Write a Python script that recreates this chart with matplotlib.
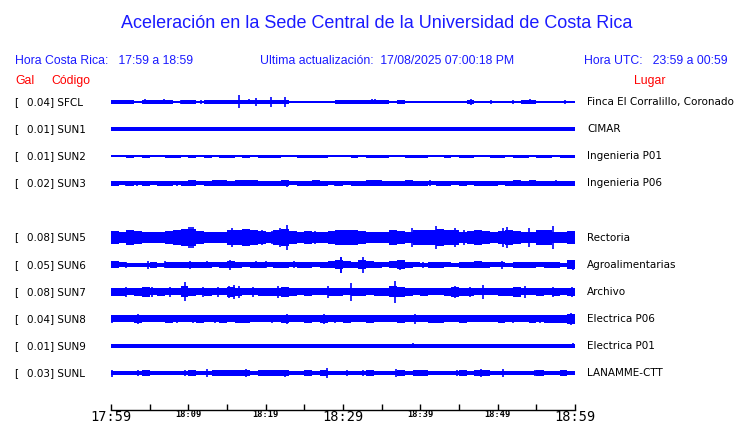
import matplotlib
matplotlib.use("Agg")
import matplotlib.pyplot as plt
import matplotlib.transforms as mtransforms
import numpy as np

# ---------------- data ----------------
title = "Aceleración en la Sede Central de la Universidad de Costa Rica"
hora_cr = "Hora Costa Rica:   17:59 a 18:59"
ultima = "Ultima actualización:  17/08/2025 07:00:18 PM"
hora_utc = "Hora UTC:   23:59 a 00:59"

codes = ["SFCL", "SUN1", "SUN2", "SUN3", "SUN5", "SUN6", "SUN7", "SUN8", "SUN9", "SUNL"]
gal = ["0.04", "0.01", "0.01", "0.02", "0.08", "0.05", "0.08", "0.04", "0.01", "0.03"]
places = ["Finca El Corralillo, Coronado", "CIMAR", "Ingenieria P01", "Ingenieria P06",
          "Rectoria", "Agroalimentarias", "Archivo", "Electrica P06", "Electrica P01",
          "LANAMME-CTT"]
slots = [0, 1, 2, 3, 5, 6, 7, 8, 9, 10]

tick_minutes = [0, 10, 20, 30, 40, 50, 60]
tick_labels = ["17:59", "18:09", "18:19", "18:29", "18:39", "18:49", "18:59"]
big_labels = ["17:59", "18:29", "18:59"]

# per-minute half-amplitude envelopes (display units)
env_SFCL = [1.5,1.5,1.5,0.6,1.5,1.5,1.5,1.5,0.6,1.5, 1.5,1.0,1.5,1.5,1.5,1.5,2.0,2.0,2.0,1.5,
            2.0,1.5,2.0,0.6,1.0,0.6,1.0,1.0,0.6,1.5, 1.5,1.5,1.5,2.0,1.5,1.5,1.0,1.5,0.6,1.0,
            0.6,1.0,1.0,0.6,0.6,1.0,1.5,0.6,0.6,0.6, 0.6,1.0,1.0,1.5,1.5,0.6,0.6,0.6,1.0,1.0]
env_SUN1 = [1.5,1.6,1.5,1.5,1.6,1.5,1.5,1.6,1.5,1.5, 1.5,1.6,1.5,1.5,1.5,1.6,1.5,1.5,1.5,1.6,
            1.5,1.5,1.6,1.5,1.5,1.5,1.6,1.5,1.5,1.5, 1.6,1.5,1.5,1.5,1.6,1.5,1.5,1.5,1.6,1.5,
            1.5,1.5,1.6,1.5,1.5,1.5,1.6,1.5,1.5,1.5, 1.6,1.5,1.5,1.5,1.6,1.5,1.5,1.5,1.6,1.5]
env_SUN2 = [1.0,0.6,1.1,0.8,1.1,1.0,0.6,1.1,1.1,0.8, 1.1,1.0,1.1,0.6,1.1,1.1,1.0,1.1,0.8,1.1,
            1.1,1.1,0.6,1.0,1.1,1.1,1.1,1.1,1.0,0.8, 1.0,1.1,1.0,1.1,1.1,1.1,0.6,1.0,1.1,1.1,
            1.1,1.0,0.8,1.1,1.0,1.1,1.1,1.0,0.8,1.1, 1.1,1.0,1.1,1.1,0.8,1.1,1.1,1.0,1.1,1.1]
env_SUN3 = [2.0,1.8,2.2,1.8,2.0,1.8,2.2,2.0,1.6,2.2, 2.4,1.8,2.0,2.5,2.5,2.2,2.5,2.5,2.5,2.0,
            2.2,2.0,2.5,1.8,2.2,2.0,2.4,2.0,1.8,2.0, 1.8,2.0,2.2,2.5,2.5,2.0,2.2,2.0,2.4,2.2,
            2.0,1.8,2.2,2.0,1.8,2.2,1.8,2.0,2.2,2.0, 1.8,2.0,2.5,2.2,2.5,2.0,2.2,2.0,2.2,2.2]
env_SUN5 = [5.5,5.0,6.0,5.5,4.5,4.5,5.0,5.5,6.0,7.0, 7.0,5.5,5.0,4.5,5.0,6.0,6.5,7.0,6.0,5.5,
            5.0,6.0,7.0,5.5,5.0,5.5,5.0,5.0,5.5,6.0, 6.0,6.0,5.5,5.0,5.0,5.0,6.0,5.5,5.0,6.0,
            6.0,6.5,7.0,6.5,6.0,5.0,5.5,6.0,5.5,5.0, 5.5,6.0,5.5,5.0,5.0,6.0,6.5,5.0,5.0,5.5]
env_SUN6 = [3.0,2.0,1.7,1.7,1.7,2.5,1.7,2.5,2.5,2.5, 2.5,2.5,2.5,2.0,2.5,3.0,2.5,2.0,2.5,2.5,
            2.0,2.5,2.5,2.0,2.5,2.5,2.0,2.5,3.0,4.0, 3.0,2.5,4.0,3.0,2.5,2.0,3.0,3.5,2.5,2.0,
            1.7,2.5,2.5,2.0,1.7,2.5,2.5,3.0,2.5,2.0, 2.0,1.7,2.5,2.5,2.5,2.0,2.5,2.5,1.7,3.5]
env_SUN7 = [3.5,3.5,3.0,3.5,4.0,3.0,3.5,3.0,3.0,4.5, 3.5,3.0,3.5,3.0,3.0,4.0,3.5,3.0,3.0,3.5,
            3.5,3.5,4.0,3.5,3.0,3.5,3.0,3.0,3.5,3.5, 3.0,3.5,3.5,3.0,3.5,3.5,4.5,4.0,3.5,3.0,
            3.5,3.0,3.0,3.5,4.0,3.5,3.5,3.0,3.0,3.0, 3.5,3.5,4.0,3.0,3.0,3.5,3.0,3.5,3.0,3.5]
env_SUN8 = [3.0,3.0,3.0,3.5,3.0,3.0,3.0,3.5,3.0,3.0, 3.0,3.5,3.0,3.0,3.5,3.0,3.5,3.5,3.0,3.0,
            3.0,3.0,3.5,3.0,3.0,3.5,3.0,3.5,3.0,3.0, 3.5,3.0,3.0,3.5,3.0,3.0,3.0,3.5,3.0,3.0,
            3.0,3.5,3.5,3.0,3.0,3.5,3.0,3.0,3.0,3.0, 3.5,3.0,3.0,3.0,3.5,3.0,3.5,3.5,3.5,4.0]
env_SUN9 = [1.4,1.4,1.4,1.4,1.4,1.4,1.4,1.4,1.4,1.4, 1.4,1.4,1.4,1.4,1.4,1.4,1.4,1.4,1.4,1.4,
            1.4,1.4,1.4,1.4,1.4,1.4,1.4,1.4,1.4,1.4, 1.4,1.4,1.4,1.4,1.4,1.4,1.4,1.4,1.4,1.6,
            1.4,1.4,1.4,1.4,1.4,1.4,1.4,1.4,1.4,1.4, 1.4,1.4,1.4,1.4,1.4,1.4,1.4,1.4,1.4,1.4]
env_SUNL = [2.0,2.0,1.5,2.0,2.2,1.5,1.5,2.0,1.5,2.0, 2.2,2.0,1.5,2.5,2.5,2.5,2.5,2.5,2.0,2.5,
            2.5,2.5,2.5,2.0,2.0,2.5,2.0,2.2,1.8,2.0, 2.0,1.5,2.0,2.5,1.5,2.0,2.0,2.5,2.0,2.5,
            2.5,2.0,2.0,1.8,2.0,2.5,2.0,2.5,2.5,2.0, 1.5,2.0,2.0,1.8,2.0,2.5,2.0,2.0,2.2,2.0]

# isolated spikes: (minute, half-amplitude)
spk_SFCL = [(4.4, 2.5), (6.8, 2.5), (9.1, 2), (11.7, 2), (16.6, 6.5), (17.8, 2.5),
            (18.8, 4), (20.7, 5), (22.5, 5), (33.7, 2.5), (34.1, 2.5), (46.6, 3),
            (49.2, 2), (52.0, 2), (54.2, 2.5), (58.7, 2)]
spk_SUN1 = []
spk_SUN2 = []
spk_SUN3 = [(0.9, 2.5), (2.0, 2.5), (3.3, 2.5), (4.8, 2.5), (6.1, 2.5), (7.4, 2.5),
            (8.5, 2.5), (10.4, 2.5), (12.2, 2.5), (13.4, 2.5), (14.5, 2.5), (17.8, 2.5),
            (19.0, 2.5), (20.8, 2.5), (22.8, 3.5), (24.2, 2.5), (25.7, 2.5), (27.7, 2.5),
            (29.0, 2.5), (41.3, 3), (57.6, 3)]
spk_SUN5 = [(2.2, 7), (2.9, 7), (4.2, 6), (4.8, 6), (6.8, 6), (8.4, 6), (9.6, 7),
            (10.1, 10.5), (10.4, 10), (10.6, 10), (11.3, 7), (12.2, 6), (15.2, 8),
            (15.6, 9), (19.5, 8), (20.8, 7), (21.9, 9), (22.8, 12), (25.1, 6),
            (26.4, 7), (29.0, 7), (30.7, 5), (32.6, 6), (38.9, 9), (42.0, 11),
            (44.5, 9), (45.6, 8), (50.7, 9), (51.2, 10), (54.0, 9), (57.2, 11.5), (59.4, 6)]
spk_SUN6 = [(2.0, 3), (4.8, 4), (7.0, 3.5), (10.2, 4), (12.4, 3.5), (15.4, 5),
            (18.8, 3.5), (20.1, 3.5), (23.6, 3.5), (27.7, 3), (29.7, 8), (29.8, 8),
            (32.6, 8), (37.4, 5), (40.4, 3), (45.6, 3), (50.5, 4), (53.8, 3), (59.4, 3),
            (59.8, 5)]
spk_SUN7 = [(0.1, 4), (2.0, 5), (5.3, 5), (7.6, 5), (9.6, 9.5), (11.9, 5), (13.9, 5),
            (15.2, 6), (15.9, 7), (16.5, 6), (18.4, 5), (21.6, 6), (22.7, 5), (28.0, 6),
            (31.0, 9), (36.7, 11), (44.5, 6), (46.4, 5), (48.1, 7), (53.5, 6),
            (57.2, 5), (59.6, 5)]
spk_SUN8 = [(0.1, 4), (3.5, 5), (8.5, 4), (10.6, 4), (13.4, 4), (17.1, 4), (20.8, 4),
            (22.8, 5), (25.1, 4), (27.5, 5), (29.0, 4), (30.9, 4), (33.5, 4), (39.3, 5),
            (45.8, 4), (52.0, 4), (55.5, 4), (59.5, 6)]
spk_SUN9 = [(39.1, 2.5), (59.8, 2.5)]
spk_SUNL = [(0.1, 3.5), (3.5, 3), (9.6, 3), (12.4, 4), (17.5, 4), (22.5, 3.5),
            (27.9, 5), (30.5, 3), (32.6, 3), (36.9, 4), (44.7, 3), (47.9, 4),
            (50.7, 4), (54.8, 3), (58.3, 3)]

envelopes = [env_SFCL, env_SUN1, env_SUN2, env_SUN3, env_SUN5, env_SUN6, env_SUN7,
             env_SUN8, env_SUN9, env_SUNL]
spikes = [spk_SFCL, spk_SUN1, spk_SUN2, spk_SUN3, spk_SUN5, spk_SUN6, spk_SUN7,
          spk_SUN8, spk_SUN9, spk_SUNL]

# ---------------- figure ----------------
W, H = 740, 423
fig = plt.figure(figsize=(W / 100, H / 100), dpi=100)
fig.patch.set_facecolor("white")

def fx(px):
    return px / W

def fy(py):
    return 1 - py / H

BLUE = "#0000ff"
TBLUE = "#1a1aff"
RED = "#ff0000"
SLOT_PX = 27.1
GAIN = 1.2
x0, x1 = 111, 575
top_px = 102 - SLOT_PX / 2
bot_px = 102 + SLOT_PX * 10 + SLOT_PX / 2

ax = fig.add_axes([fx(x0), fy(bot_px), fx(x1 - x0), (bot_px - top_px) / H])
ax.set_xlim(0, 60)
ax.set_ylim(10.5, -0.5)
ax.axis("off")

for s, env, spk in zip(slots, envelopes, spikes):
    e = GAIN * np.array(env) / SLOT_PX
    t = np.arange(len(env)) + 0.5
    tt = np.concatenate([[0], t, [60]])
    ee = np.concatenate([[e[0]], e, [e[-1]]])
    ax.fill_between(tt, s - ee, s + ee, step="mid", color=BLUE, lw=0)
    ax.plot([0, 60], [s, s], color=BLUE, lw=1.2)
    if spk:
        m = np.array([p[0] for p in spk])
        a = np.array([p[1] for p in spk]) / SLOT_PX
        ax.vlines(m, s - a, s + a, color=BLUE, lw=1.2)

# left / right labels
trL = mtransforms.blended_transform_factory(fig.transFigure, ax.transData)
for s, g, c, p in zip(slots, gal, codes, places):
    ax.text(fx(14), s, "[", transform=trL, ha="left", va="center", fontsize=7.5,
            family="DejaVu Sans", color="black")
    ax.text(fx(27), s, f"{g}] {c}", transform=trL, ha="left", va="center",
            fontsize=7.5, family="DejaVu Sans", color="black")
    ax.text(fx(587), s, p, transform=trL, ha="left", va="center", fontsize=7.5,
            family="DejaVu Sans", color="black")

# header texts
fig.text(fx(377), fy(23), title, ha="center", va="center", color=TBLUE,
         fontsize=13.0, family="Liberation Sans")
fig.text(fx(15), fy(61), hora_cr, ha="left", va="center", color=TBLUE,
         fontsize=8.8, family="Liberation Sans")
fig.text(fx(260), fy(61), ultima, ha="left", va="center", color=TBLUE,
         fontsize=8.8, family="Liberation Sans")
fig.text(fx(728), fy(61), hora_utc, ha="right", va="center", color=TBLUE,
         fontsize=8.8, family="Liberation Sans")
fig.text(fx(15), fy(81), "Gal", ha="left", va="center", color=RED,
         fontsize=8.8, family="Liberation Sans")
fig.text(fx(51), fy(81), "Código", ha="left", va="center", color=RED,
         fontsize=8.8, family="Liberation Sans")
fig.text(fx(634), fy(81), "Lugar", ha="left", va="center", color=RED,
         fontsize=8.8, family="Liberation Sans")

# time axis
tax = fig.add_axes([fx(x0), fy(410), fx(x1 - x0), 8 / H])
tax.set_xlim(0, 60)
tax.set_ylim(0, 1)
for sp in ["top", "left", "right"]:
    tax.spines[sp].set_visible(False)
tax.spines["bottom"].set_linewidth(1.0)
tax.set_yticks([])
tax.set_xticks(tick_minutes)
tax.set_xticks(np.array(tick_minutes[:-1]) + 5, minor=True)
tax.set_xticklabels(tick_labels, family="DejaVu Sans Mono")
for lab in tax.get_xticklabels():
    if lab.get_text() in big_labels:
        lab.set_fontsize(9.8)
    else:
        lab.set_fontsize(6.2)
        lab.set_fontweight("bold")
tax.tick_params(axis="x", which="both", direction="in", length=4, width=1,
                pad=0.3, colors="black")
tax.patch.set_visible(False)

fig.savefig("out.png", dpi=100, facecolor="white")
